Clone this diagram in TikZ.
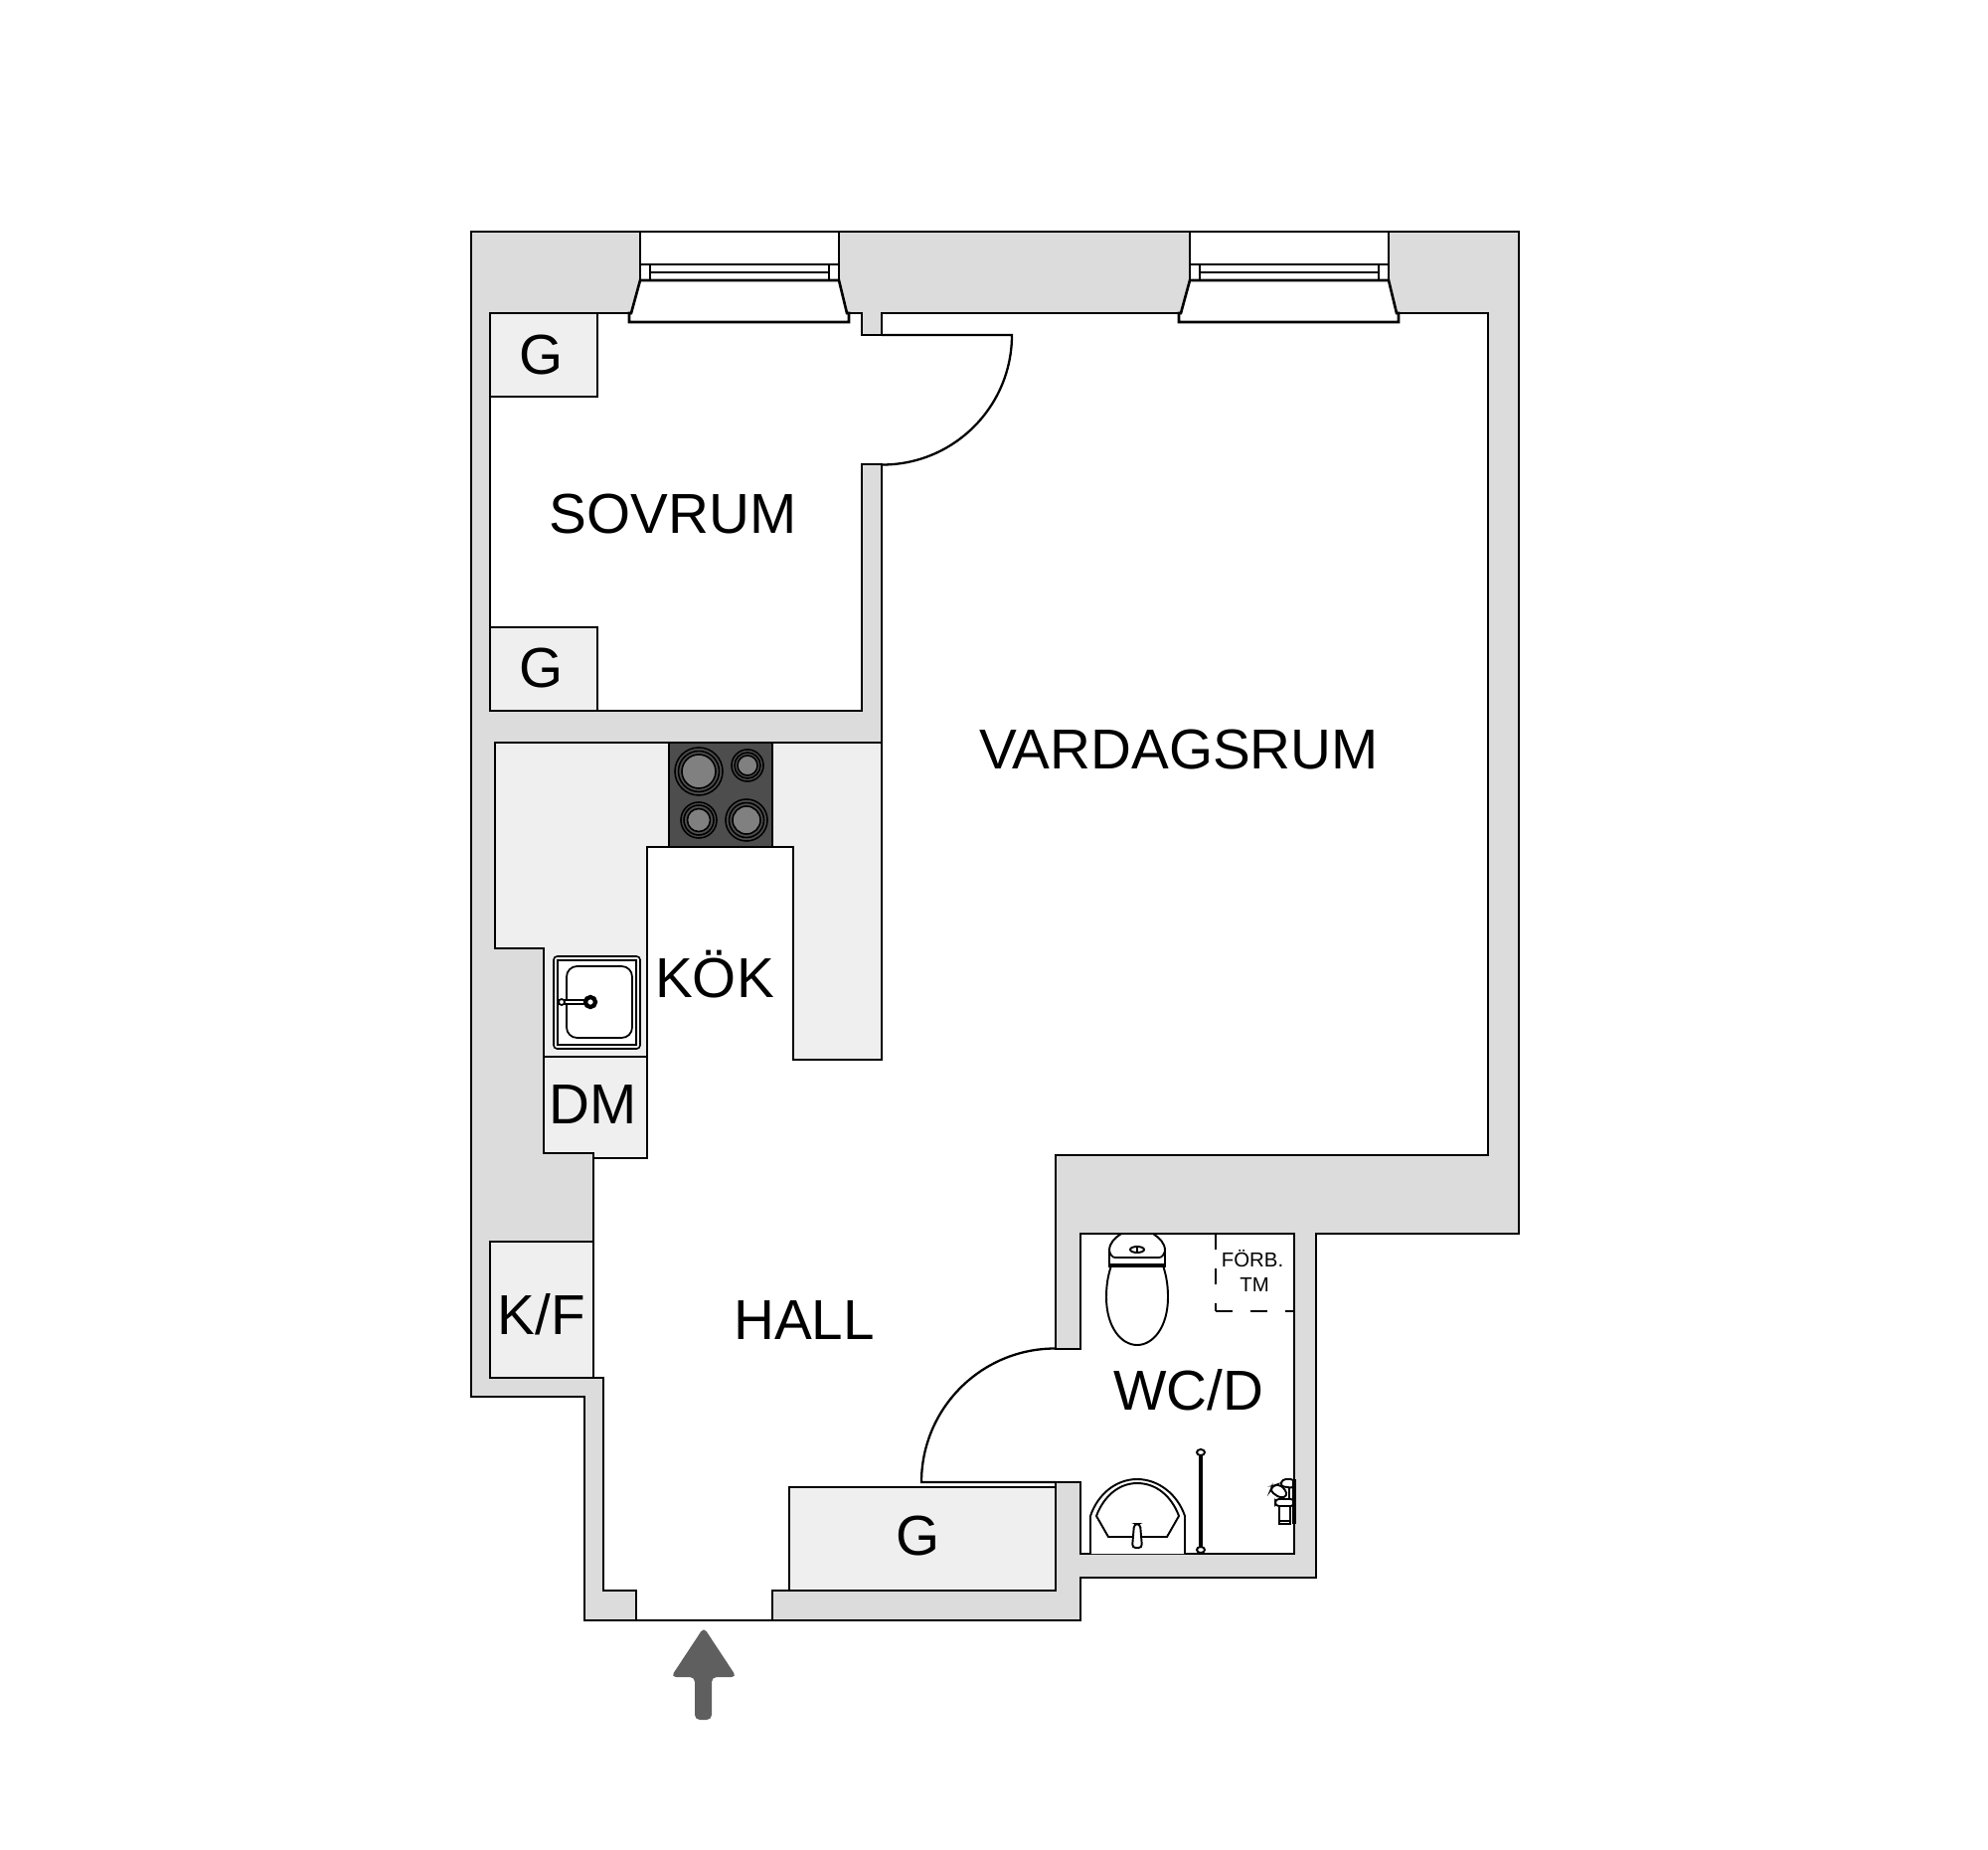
\documentclass[tikz,border=0pt]{standalone}
\usepackage{fontspec}
\usepackage{xcolor}
\usepackage{tikz}
\setmainfont{Liberation Sans}
\definecolor{wallgrey}{RGB}{220,220,220}
\definecolor{fitgrey}{RGB}{239,239,239}
\definecolor{hobgrey}{RGB}{77,77,77}
\definecolor{plategrey}{RGB}{128,128,128}
\definecolor{arrowgrey}{RGB}{95,95,95}

\begin{document}
\begin{tikzpicture}[x=0.01cm, y=-0.01cm, line join=miter,
    wall/.style={draw=black, line width=0.75pt},
    fitting/.style={draw=black, line width=0.7pt, fill=fitgrey},
    fixture/.style={draw=black, line width=0.55pt, fill=white},
    roomlabel/.style={font=\fontsize{16.1}{18}\selectfont, text height=11.5pt, text depth=0pt, inner sep=0pt},
    smalllabel/.style={font=\fontsize{5.8}{7}\selectfont, text height=4.1pt, text depth=0pt, inner sep=0pt}]
    \path[use as bounding box, fill=white] (0,0) rectangle (2000,1861);

    % walls
    \path[wall, fill=wallgrey] (474,233) -- (1528,233) -- (1528,1241) -- (1324,1241) -- (1324,1587)
        -- (1087,1587) -- (1087,1630) -- (588,1630) -- (588,1405) -- (474,1405) -- cycle;
    \path[wall, fill=white] (493,315) -- (867,315) -- (867,337) -- (887,337) -- (887,315) -- (1497,315)
        -- (1497,1162) -- (1062,1162) -- (1062,1357) -- (1087,1357) -- (1087,1241) -- (1302,1241)
        -- (1302,1563) -- (1087,1563) -- (1087,1491) -- (1062,1491) -- (1062,1600) -- (777,1600)
        -- (777,1630) -- (640,1630) -- (640,1600) -- (607,1600) -- (607,1386) -- (493,1386)
        -- (493,1249) -- (597,1249) -- (597,1160) -- (547,1160) -- (547,954) -- (498,954)
        -- (498,747) -- (887,747) -- (887,467) -- (867,467) -- (867,715) -- (493,715) -- cycle;

    % windows
    \foreach \wx in {644,1197} {
        \begin{scope}[shift={(\wx,0)}]
            \path[wall, fill=white] (0,233) rectangle (200,282);
            \path[wall, fill=white] (0,282) -- (-9,315) -- (-11,315) -- (-11,324) -- (210,324)
                -- (210,315) -- (208,315) -- (200,282) -- cycle;
            \draw[wall] (0,266) -- (200,266);
            \draw[wall, line width=0.55pt] (10,274) -- (190,274);
            \draw[wall] (10,266) -- (10,282);
            \draw[wall] (190,266) -- (190,282);
        \end{scope}
    }

    % doors
    \draw[wall, line width=0.65pt] (887,337) -- (1018,337) arc[start angle=0, end angle=90, radius=130.5];
    \draw[wall, line width=0.65pt] (1062,1491) -- (927,1491) arc[start angle=180, end angle=270, radius=134.5];

    % fitted units
    \path[fitting] (493,315) rectangle (601,399);
    \path[fitting] (493,631) rectangle (601,715);
    \path[fitting] (493,1249) rectangle (597,1386);
    \path[fitting] (794,1496) rectangle (1062,1600);
    \path[fitting] (498,747) -- (887,747) -- (887,1066) -- (798,1066) -- (798,852) -- (651,852)
        -- (651,1165) -- (597,1165) -- (597,1160) -- (547,1160) -- (547,954) -- (498,954) -- cycle;
    \draw[fitting] (547,1063) -- (651,1063);

    % hob
    \path[draw=black, line width=0.6pt, fill=hobgrey] (673,747) rectangle (777,852);
    \foreach \px/\py/\ra/\rb/\rc in {703/776/24/20.5/17, 752/770/16/13/10, 703/825/18/15/11.5, 751/825/21/17.5/14} {
        \draw[black, line width=0.45pt] (\px,\py) circle[radius=\ra];
        \draw[black, line width=0.45pt] (\px,\py) circle[radius=\rb];
        \draw[black, line width=0.45pt, fill=plategrey] (\px,\py) circle[radius=\rc];
    }

    % sink
    \path[draw=black, line width=0.45pt, fill=fitgrey, rounded corners=1pt] (557,962) rectangle (644,1055);
    \path[draw=black, line width=0.55pt, fill=white] (561,966) rectangle (640,1051);
    \path[draw=black, line width=0.5pt, fill=white, rounded corners=3pt] (570,972) rectangle (636,1044);
    \draw[black, line width=1.5pt] (565,1008) -- (594,1008);
    \draw[white, line width=0.5pt] (565,1008) -- (594,1008);
    \draw[black, line width=0.5pt, fill=white] (565,1008) circle[radius=3];
    \draw[black, line width=1.2pt, fill=white] (594,1008) circle[radius=5];

    % toilet
    \path[fixture] (1118,1273) .. controls (1114,1285) and (1113,1295) .. (1113,1305)
        .. controls (1113,1335) and (1128,1353) .. (1144,1353)
        .. controls (1160,1353) and (1175,1335) .. (1175,1305)
        .. controls (1175,1295) and (1174,1285) .. (1170,1273) -- cycle;
    \path[fixture] (1116,1273) -- (1116,1258) .. controls (1116,1250) and (1122,1245) .. (1128,1241)
        -- (1160,1241) .. controls (1166,1245) and (1172,1250) .. (1172,1258) -- (1172,1273) -- cycle;
    \draw[black, line width=0.5pt] (1116,1258) .. controls (1117,1262) and (1119,1265) .. (1122,1265)
        -- (1166,1265) .. controls (1169,1265) and (1171,1262) .. (1172,1258);
    \draw[black, line width=0.9pt] (1115,1273) -- (1173,1273);
    \draw[black, line width=0.55pt] (1144,1257) ellipse[x radius=7, y radius=3];
    \draw[black, line width=0.5pt] (1144,1254) -- (1144,1260);

    % basin
    \path[fixture] (1097,1563) -- (1097,1525) .. controls (1104,1504) and (1122,1488) .. (1144,1488)
        .. controls (1166,1488) and (1185,1504) .. (1192,1525) -- (1192,1563);
    \path[fixture] (1103,1525) .. controls (1110,1506) and (1125,1492) .. (1144,1492)
        .. controls (1164,1492) and (1179,1506) .. (1186,1525) -- (1174,1546) -- (1115,1546) -- cycle;
    \path[fixture, rounded corners=1pt] (1141,1533) -- (1147,1533) -- (1149,1557) -- (1139,1557) -- cycle;

    % towel rail
    \draw[black, line width=0.9pt] (1208,1461) -- (1208,1559);
    \path[fixture] (1208,1461) ellipse[x radius=4, y radius=3];
    \path[fixture] (1208,1559) ellipse[x radius=4, y radius=3];

    % tap
    \path[fixture, rounded corners=1pt] (1302,1488) -- (1290,1488) -- (1288,1495) -- (1302,1497) -- cycle;
    \path[fixture, rounded corners=1pt] (1286,1493) -- (1280,1495) -- (1278,1500) -- (1288,1507) -- (1295,1505) -- (1293,1498) -- cycle;
    \path[fixture, rounded corners=1pt] (1283,1508) rectangle (1302,1515);
    \path[draw=black, line width=0.7pt, fill=white] (1287,1515) rectangle (1298,1533);
    \draw[black, line width=0.8pt] (1297,1497) -- (1297,1508);
    \draw[black, line width=0.8pt] (1287,1530) -- (1298,1530);
    \draw[black, line width=0.9pt] (1302,1488) -- (1302,1533);

    % meter cupboard
    \draw[black, line width=0.65pt, dash pattern=on 4.85pt off 5.1pt, dash phase=2.3pt] (1302,1319) -- (1223,1319);
    \draw[black, line width=0.65pt, dash pattern=on 4.6pt off 5.4pt] (1223,1241) -- (1223,1319);

    % entrance arrow
    \fill[arrowgrey, rounded corners=1.4pt] (708,1637) -- (741,1687) -- (716,1687) -- (716,1730)
        -- (699,1730) -- (699,1687) -- (675,1687) -- cycle;

    % labels
    \node[roomlabel] (sovrum) at (677,516) {SOVRUM};
    \node[roomlabel] (vardagsrum) at (1186,753) {VARDAGSRUM};
    \node[roomlabel] (kok) at (719,983) {KÖK};
    \node[roomlabel] (dm) at (597,1110) {DM};
    \node[roomlabel] (kf) at (545,1322) {K/F};
    \node[roomlabel] (hall) at (809,1327) {HALL};
    \node[roomlabel] (wcd) at (1196,1398) {WC/D};
    \node[roomlabel] (gtop) at (545,356) {G};
    \node[roomlabel] (gmid) at (545,671) {G};
    \node[roomlabel] (gbot) at (924,1544) {G};
    \node[smalllabel] (forb) at (1260,1267) {FÖRB.};
    \node[smalllabel] (tm) at (1262,1292) {TM};
\end{tikzpicture}
\end{document}
